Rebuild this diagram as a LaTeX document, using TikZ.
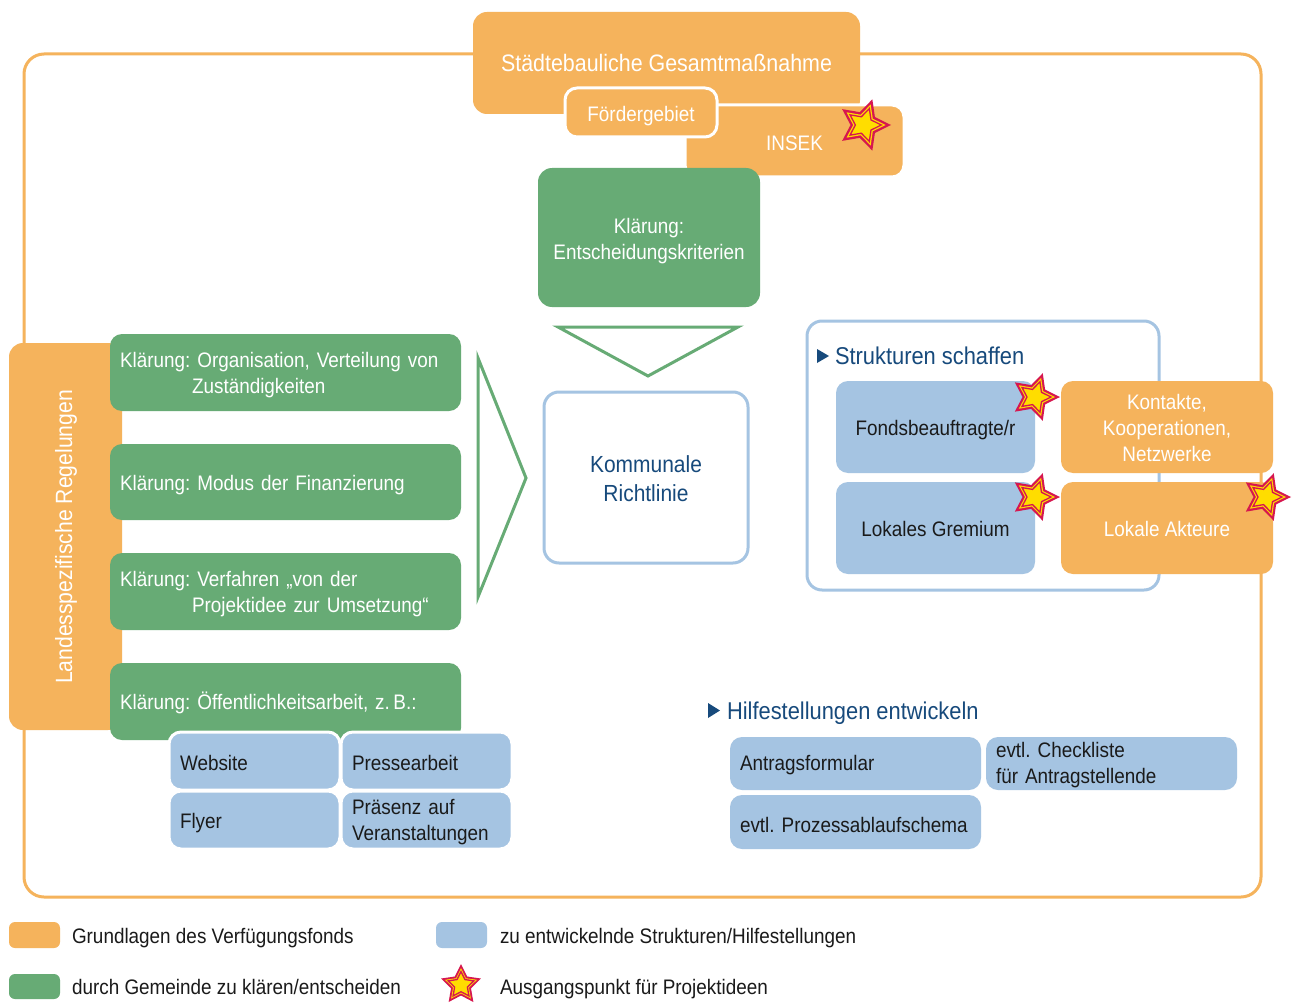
\documentclass[tikz,border=0pt]{standalone}
\usepackage{fontspec}
\setmainfont{Liberation Sans}[FakeStretch=0.9]
\frenchspacing
\definecolor{corange}{HTML}{F5B35C}
\definecolor{cgreen}{HTML}{67AB75}
\definecolor{cblue}{HTML}{A5C4E2}
\definecolor{cdark}{HTML}{174A7C}
\definecolor{ctext}{HTML}{1A1A1A}
\definecolor{starred}{HTML}{D6174F}
\definecolor{staryellow}{HTML}{FFDD00}
\tikzset{
  fbase/.style={font=\fontsize{21pt}{26pt}\selectfont},
  fhead/.style={font=\fontsize{24.3pt}{28pt}\selectfont},
  box/.style={rounded corners=12pt, anchor=north west, inner sep=0pt, outer sep=0pt},
  sz/.style 2 args={minimum width=#1pt, minimum height=#2pt},
  ltxt/.style={text width=#1pt, align=left},
  obox/.style={box, fill=corange},
  gbox/.style={box, fill=cgreen},
  bbox/.style={box, fill=cblue},
  wedge/.style={box, draw=white, line width=3pt},
  frameline/.style={draw=#1, line width=3pt},
  gline/.style={draw=cgreen, line width=3pt, line join=miter},
  swatch/.style={box, rounded corners=6pt},
  wt/.style={text=white},
  dt/.style={text=ctext},
  legtext/.style={anchor=west, text=ctext, inner sep=0pt},
  pics/burst/.style 2 args={code={
    \fill[starred] ({#2}:{#1*1pt}) \foreach \a in {0,72,144,216,288}{ -- ({#2+\a+36}:{0.5*#1*1pt}) -- ({#2+\a+72}:{#1*1pt}) } -- cycle;
    \fill[staryellow] ({#2}:{0.8*#1*1pt}) \foreach \a in {0,72,144,216,288}{ -- ({#2+\a+36}:{0.4*#1*1pt}) -- ({#2+\a+72}:{0.8*#1*1pt}) } -- cycle;
    \filldraw[fill=staryellow, draw=starred, line width=1.3pt, line join=miter] ({#2}:{0.64*#1*1pt}) \foreach \a in {0,72,144,216,288}{ -- ({#2+\a+36}:{0.32*#1*1pt}) -- ({#2+\a+72}:{0.64*#1*1pt}) } -- cycle;
  }}
}
% text of a box: #1 box name, #2 options, #3 vertical shift, #4 text
\newcommand\boxlabel[4]{\node[#2, inner sep=0pt, yshift=#3] (#1t) at (#1.center) {#4};}
\begin{document}
\hyphenpenalty=10000
\exhyphenpenalty=10000
\begin{tikzpicture}[x=1pt, y=-1pt, every node/.style={fbase, outer sep=0pt}]
\useasboundingbox[fill=white] (0,0) rectangle (1297,1003);

% outer frame
\node[box, frameline=corange, rounded corners=20pt, sz={1237}{843}] (frame) at (24,54) {};

% left column
\node[obox, sz={113}{387}, rounded corners=14pt] (land) at (9,343) {};
\node[text=white, rotate=90, font=\fontsize{23.5pt}{28pt}\selectfont] (landt) at (66,537) {Landesspezifische Regelungen};

\node[gbox, sz={351}{77}] (k1) at (110,334) {};
\boxlabel{k1}{wt, ltxt=331}{-3pt}{Klärung: Organisation, Verteilung von\\\hspace*{72pt}Zuständigkeiten}
\node[gbox, sz={351}{76}] (k2) at (110,444) {};
\boxlabel{k2}{wt, ltxt=331}{-3pt}{Klärung: Modus der Finanzierung}
\node[gbox, sz={351}{77}] (k3) at (110,553) {};
\boxlabel{k3}{wt, ltxt=331}{-3pt}{Klärung: Verfahren „von der\\\hspace*{72pt}Projektidee zur Umsetzung“}
\node[gbox, sz={351}{77}] (k4) at (110,663) {};
\boxlabel{k4}{wt, ltxt=331}{-1.5pt}{Klärung: Öffentlichkeitsarbeit, z.\,B.:}

\node[bbox, wedge, sz={171}{58}] (web) at (169,732) {};
\boxlabel{web}{dt, ltxt=149}{-2pt}{Website}
\node[bbox, wedge, sz={171}{58}] (presse) at (341,732) {};
\boxlabel{presse}{dt, ltxt=149}{-2pt}{Pressearbeit}
\node[bbox, wedge, sz={171}{58}] (flyer) at (169,791) {};
\boxlabel{flyer}{dt, ltxt=149}{-3pt}{Flyer}
\node[bbox, wedge, sz={171}{58}] (praes) at (341,791) {};
\boxlabel{praes}{dt, ltxt=149}{-2.5pt}{Präsenz auf\\Veranstaltungen}

% top
\node[obox, sz={387}{102}, rounded corners=14pt] (title) at (473,12) {};
\boxlabel{title}{wt, font=\fontsize{23.8pt}{28pt}\selectfont}{0pt}{Städtebauliche Gesamtmaßnahme}
\node[obox, wedge, sz={219}{72}] (insek) at (685,105) {};
\boxlabel{insek}{wt}{-2pt}{INSEK}
\node[obox, wedge, sz={152}{49}] (foerd) at (565,88) {};
\boxlabel{foerd}{wt}{-3.5pt}{Fördergebiet}
\pic at (864,125) {burst={27}{72}};

% center
\node[gbox, sz={222}{139}, rounded corners=14pt] (ent) at (538,168) {};
\boxlabel{ent}{wt, align=center}{-3.5pt}{Klärung:\\Entscheidungskriterien}
\draw[gline] (558,327) -- (738,327) -- (648,376) -- cycle;
\draw[gline] (478,358) -- (526,478) -- (478,597) -- cycle;
\node[box, frameline=cblue, fill=white, sz={204}{171}, rounded corners=15pt] (kr) at (544,392) {};
\boxlabel{kr}{text=cdark, align=center, font=\fontsize{23.3pt}{29pt}\selectfont}{-1pt}{Kommunale\\Richtlinie}

% Strukturen schaffen
\node[box, frameline=cblue, fill=white, sz={352}{269}, rounded corners=15pt] (sframe) at (807,321) {};
\fill[cdark] (817,349) -- (829,356) -- (817,363) -- cycle;
\node[fhead, anchor=base west, text=cdark, inner sep=0pt] (sh) at (835,364) {Strukturen schaffen};
\node[bbox, sz={199}{92}] (fonds) at (836,381) {};
\boxlabel{fonds}{dt}{-3pt}{Fondsbeauftragte/r}
\node[bbox, sz={199}{92}] (grem) at (836,482) {};
\boxlabel{grem}{dt}{-1pt}{Lokales Gremium}
\node[obox, sz={212}{92}] (kontakte) at (1061,381) {};
\boxlabel{kontakte}{wt, align=center}{-1pt}{Kontakte,\\Kooperationen,\\Netzwerke}
\node[obox, sz={212}{92}] (akteure) at (1061,482) {};
\boxlabel{akteure}{wt}{-1pt}{Lokale Akteure}
\pic at (1035,397) {burst={25}{72}};
\pic at (1035,497) {burst={25}{72}};
\pic at (1266,497) {burst={25}{72}};

% Hilfestellungen
\fill[cdark] (708,703) -- (720,710.5) -- (708,718) -- cycle;
\node[fhead, anchor=base west, text=cdark, inner sep=0pt] (hh) at (727,719) {Hilfestellungen entwickeln};
\node[bbox, sz={251}{53}] (antrag) at (730,737) {};
\boxlabel{antrag}{dt, ltxt=231}{-2pt}{Antragsformular}
\node[bbox, sz={251}{53}] (check) at (986,737) {};
\boxlabel{check}{dt, ltxt=231}{-2pt}{evtl. Checkliste\\für Antragstellende}
\node[bbox, sz={251}{54}] (prozess) at (730,795) {};
\boxlabel{prozess}{dt, ltxt=231}{-3pt}{evtl. Prozessablaufschema}

% legend
\node[swatch, fill=corange, sz={51}{26}] (lo) at (9,922) {};
\node[legtext, yshift=-2pt] (lot) at (72,936) {Grundlagen des Verfügungsfonds};
\node[swatch, fill=cgreen, sz={51}{25}] (lg) at (9,974) {};
\node[legtext] (lgt) at (72,987) {durch Gemeinde zu klären/entscheiden};
\node[swatch, fill=cblue, sz={51}{26}] (lb) at (436,922) {};
\node[legtext, yshift=-2pt] (lbt) at (500,936) {zu entwickelnde Strukturen/Hilfestellungen};
\pic at (461,985) {burst={21}{90}};
\node[legtext, yshift=-2pt] (lst) at (500,987) {Ausgangspunkt für Projektideen};
\end{tikzpicture}
\end{document}
